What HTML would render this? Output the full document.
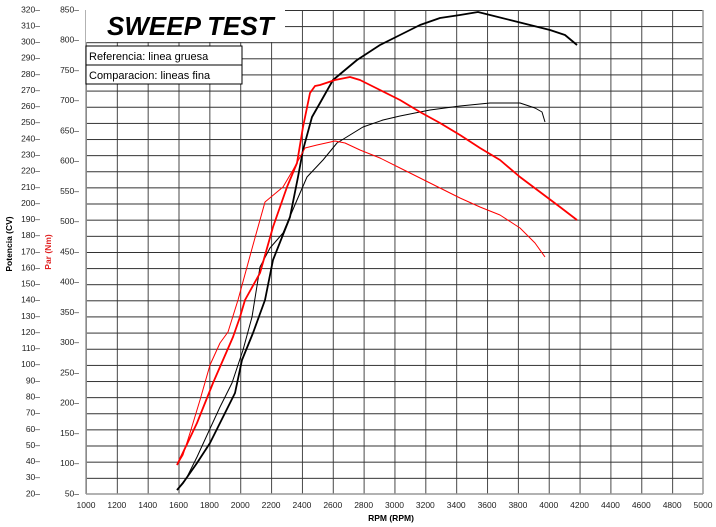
<!DOCTYPE html>
<html><head><meta charset="utf-8"><style>
html,body{margin:0;padding:0;background:#fff;}
svg{display:block;font-family:"Liberation Sans",Arial,sans-serif;}
</style></head><body>
<svg width="716" height="527" viewBox="0 0 716 527" xmlns="http://www.w3.org/2000/svg">
<defs>
<pattern id="h" x="0" y="10" width="10" height="16.1333" patternUnits="userSpaceOnUse">
<line x1="0" y1="0" x2="10" y2="0" stroke="#000" stroke-width="1.6"/></pattern>
<pattern id="v" x="86" y="0" width="30.85" height="10" patternUnits="userSpaceOnUse">
<line x1="0" y1="0" x2="0" y2="10" stroke="#333" stroke-width="1.8"/></pattern>
</defs>
<rect x="86" y="10" width="617" height="484" fill="url(#h)"/>
<rect x="86" y="10" width="617" height="484" fill="url(#v)"/>
<line x1="86" y1="10" x2="86" y2="494" stroke="#999" stroke-width="1.5"/>
<line x1="86" y1="494" x2="703" y2="494" stroke="#999" stroke-width="1.5"/>
<line x1="703" y1="10" x2="703" y2="494" stroke="#999" stroke-width="1.5"/>

<rect x="86" y="9" width="199" height="33" fill="#fff"/>
<text x="107" y="35" font-size="26" font-weight="bold" font-style="italic" fill="#000">SWEEP TEST</text>
<rect x="86" y="46" width="156" height="38" fill="#fff" stroke="#000" stroke-width="1"/>
<line x1="86" y1="65" x2="242" y2="65" stroke="#000"/>
<text x="89" y="60" font-size="11">Referencia: linea gruesa</text>
<text x="89" y="79" font-size="11">Comparacion: lineas fina</text>

<g font-size="8.5" fill="#222" text-anchor="end" dominant-baseline="middle">
<text x="40" y="494">20–</text><text x="40" y="477.9">30–</text><text x="40" y="461.7">40–</text><text x="40" y="445.6">50–</text><text x="40" y="429.5">60–</text><text x="40" y="413.3">70–</text><text x="40" y="397.2">80–</text><text x="40" y="381.1">90–</text><text x="40" y="364.9">100–</text><text x="40" y="348.8">110–</text><text x="40" y="332.7">120–</text><text x="40" y="316.5">130–</text><text x="40" y="300.4">140–</text><text x="40" y="284.3">150–</text><text x="40" y="268.1">160–</text><text x="40" y="252">170–</text><text x="40" y="235.9">180–</text><text x="40" y="219.7">190–</text><text x="40" y="203.6">200–</text><text x="40" y="187.5">210–</text><text x="40" y="171.3">220–</text><text x="40" y="155.2">230–</text><text x="40" y="139.1">240–</text><text x="40" y="122.9">250–</text><text x="40" y="106.8">260–</text><text x="40" y="90.7">270–</text><text x="40" y="74.5">280–</text><text x="40" y="58.4">290–</text><text x="40" y="42.3">300–</text><text x="40" y="26.1">310–</text><text x="40" y="10">320–</text>
<text x="79" y="494">50–</text><text x="79" y="463.75">100–</text><text x="79" y="433.5">150–</text><text x="79" y="403.25">200–</text><text x="79" y="373">250–</text><text x="79" y="342.75">300–</text><text x="79" y="312.5">350–</text><text x="79" y="282.25">400–</text><text x="79" y="252">450–</text><text x="79" y="221.75">500–</text><text x="79" y="191.5">550–</text><text x="79" y="161.25">600–</text><text x="79" y="131">650–</text><text x="79" y="100.75">700–</text><text x="79" y="70.5">750–</text><text x="79" y="40.25">800–</text><text x="79" y="10">850–</text>
</g>
<g font-size="8.5" fill="#222" text-anchor="middle">
<text x="86" y="508">1000</text><text x="116.85" y="508">1200</text><text x="147.7" y="508">1400</text><text x="178.55" y="508">1600</text><text x="209.4" y="508">1800</text><text x="240.25" y="508">2000</text><text x="271.1" y="508">2200</text><text x="301.95" y="508">2400</text><text x="332.8" y="508">2600</text><text x="363.65" y="508">2800</text><text x="394.5" y="508">3000</text><text x="425.35" y="508">3200</text><text x="456.2" y="508">3400</text><text x="487.05" y="508">3600</text><text x="517.9" y="508">3800</text><text x="548.75" y="508">4000</text><text x="579.6" y="508">4200</text><text x="610.45" y="508">4400</text><text x="641.3" y="508">4600</text><text x="672.15" y="508">4800</text><text x="703" y="508">5000</text>
</g>
<text x="391" y="521" font-size="8.5" font-weight="bold" text-anchor="middle">RPM (RPM)</text>
<text transform="translate(12,244) rotate(-90)" font-size="8.5" font-weight="bold" text-anchor="middle">Potencia (CV)</text>
<text transform="translate(51,252) rotate(-90)" font-size="8.5" font-weight="bold" fill="#e02020" text-anchor="middle">Par (Nm)</text>

<g fill="none" stroke-linejoin="round">
<polyline stroke="#000" stroke-width="1.8" points="177,490 183,483 197,463 210,443 223,417 235,393 242,360 253,333 265,300 273,260 290,217 298,177 303,150 312,117 320,103 333,80 357,60 380,45 400,35 420,25 440,18 460,15 478,12 490,15 510,20 530,25 550,30 565,35 577,45"/>
<polyline stroke="#000" stroke-width="1" points="177,490 187,477 197,457 208,433 220,407 232,383 243,350 252,317 260,267 270,248 283,233 297,200 307,177 323,160 337,143 363,127 383,120 400,116 430,110 460,106 490,103 520,103 535,108 542,112 545,122"/>
<polyline stroke="#f00" stroke-width="1.8" points="177,465 188,442 197,423 205,403 213,383 223,360 233,337 240,317 245,300 260,273 273,227 287,187 297,163 303,127 310,93 315,86 320,85 335,80 350,77 360,80 380,90 400,100 420,112 440,123 460,135 480,148 500,160 520,177 540,192 560,207 577,220"/>
<polyline stroke="#f00" stroke-width="1" points="177,465 183,455 190,433 200,400 210,365 220,343 228,332 238,300 253,245 265,202 283,187 293,170 305,148 317,145 335,141 345,143 360,150 380,158 400,168 420,178 440,188 460,198 480,207 500,215 520,228 535,243 545,257"/>
</g>
</svg>
</body></html>
